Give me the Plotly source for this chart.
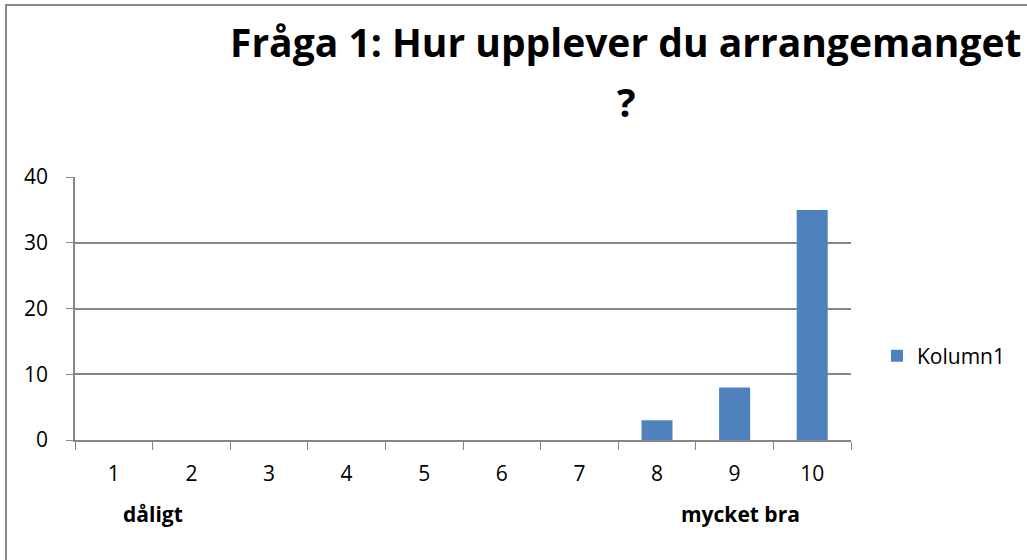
import plotly.graph_objects as go

categories = ["1", "2", "3", "4", "5", "6", "7", "8", "9", "10"]
values = [0, 0, 0, 0, 0, 0, 0, 3, 8, 35]
series_name = "Kolumn1"
title_line1 = "Fråga 1: Hur upplever du arrangemanget"
title_line2 = "?"
low_label = "dåligt"
high_label = "mycket bra"

W, H = 1027, 560
L, R, T, B = 75, 851, 177, 440
FONT = "'Open Sans', sans-serif"
GRAY = "#868686"

def px_x(px):
    return (px - L) / (R - L)

def px_y(py):
    return (B - py) / (B - T)

fig = go.Figure()
fig.add_trace(go.Bar(x=categories, y=values, name=series_name,
                     marker=dict(color="#4F81BD", line=dict(width=0))))

fig.update_layout(
    width=W, height=H,
    margin=dict(l=L, r=W - R, t=T, b=H - B, pad=0, autoexpand=False),
    paper_bgcolor="white", plot_bgcolor="white",
    bargap=0.6,
    font=dict(family=FONT, size=21, color="black"),
    showlegend=True,
    legend=dict(x=px_x(877), y=px_y(356), xanchor="left", yanchor="middle",
                font=dict(size=21), itemwidth=30, bgcolor="rgba(0,0,0,0)"),
    xaxis=dict(type="category", tickson="boundaries", ticks="outside", ticklen=8,
               tickcolor=GRAY, showline=True, linecolor=GRAY, linewidth=1.5,
               showgrid=False, ticklabelstandoff=14, tickfont=dict(size=21)),
    yaxis=dict(range=[0, 40], tickvals=[0, 10, 20, 30, 40], ticks="outside",
               ticklen=7, tickcolor=GRAY, showline=True, linecolor=GRAY,
               linewidth=1.5, showgrid=True, gridcolor=GRAY, gridwidth=1.5,
               zeroline=False, ticklabelstandoff=14, tickfont=dict(size=21)),
    shapes=[dict(type="rect", xref="paper", yref="paper",
                 x0=px_x(6), x1=px_x(1200), y0=px_y(700), y1=px_y(5),
                 line=dict(color="#8a8a8a", width=2), fillcolor="rgba(0,0,0,0)")],
)

fig.add_annotation(x=px_x(625), y=px_y(42), xref="paper", yref="paper",
                   text="<b>" + title_line1 + "</b>", showarrow=False,
                   font=dict(size=39), xanchor="center", yanchor="middle")
fig.add_annotation(x=px_x(626), y=px_y(102), xref="paper", yref="paper",
                   text="<b>" + title_line2 + "</b>", showarrow=False,
                   font=dict(size=39), xanchor="center", yanchor="middle")
fig.add_annotation(x=0.5, y=px_y(514), xref="x", yref="paper", text="<b>" + low_label + "</b>",
                   showarrow=False, font=dict(size=21), xanchor="center", yanchor="middle")
fig.add_annotation(x=8.07, y=px_y(514), xref="x", yref="paper", text="<b>" + high_label + "</b>",
                   showarrow=False, font=dict(size=21), xanchor="center", yanchor="middle")

fig.write_html("out.html", config={"displayModeBar": False},
               post_script="document.body.style.margin='0';document.body.style.overflow='hidden';")
